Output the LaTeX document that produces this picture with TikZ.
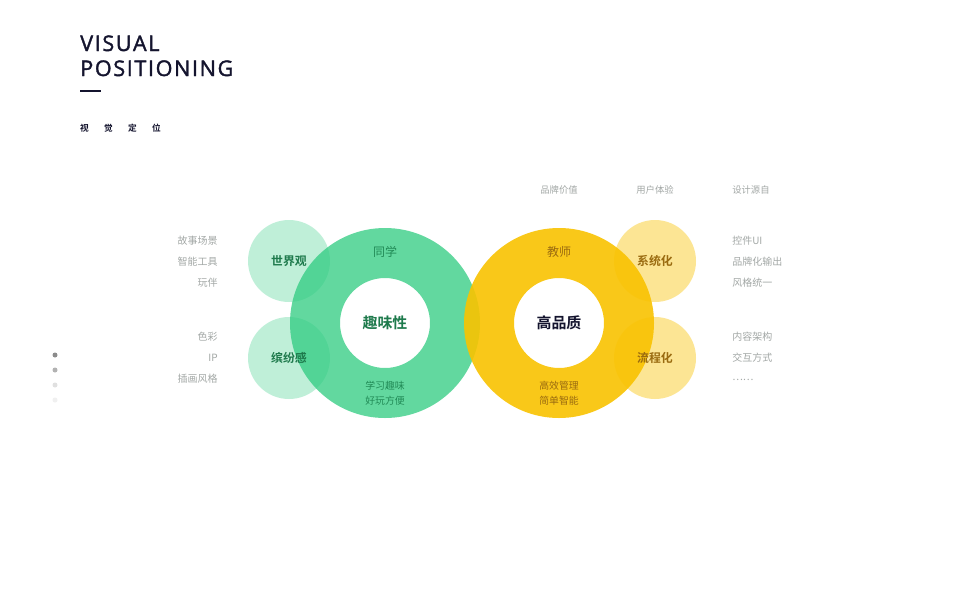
\documentclass[tikz,border=0pt]{standalone}
\usepackage{fontspec}
\setmainfont{Noto Sans CJK SC}
\newfontfamily\titlefont[LetterSpace=7.5,FakeBold=1.6]{Open Sans}
\newfontfamily\cjk{Noto Sans CJK SC}
\newfontfamily\cjkb{Noto Sans CJK SC Bold}
\definecolor{gbase}{HTML}{2ECC80}
\definecolor{ybase}{HTML}{F9C300}
\definecolor{gtext}{HTML}{1E7A4C}
\definecolor{ytext}{HTML}{9A6B10}
\definecolor{navy}{HTML}{14142E}
\definecolor{lbl}{HTML}{A3A8A6}
\tikzset{
  lab/.style={font=\cjk\fontsize{7.5pt}{9pt}\selectfont, text=lbl, inner sep=0pt},
  toplab/.style={font=\cjk\fontsize{7pt}{9pt}\selectfont, text=lbl, inner sep=0pt},
  gin/.style={font=\cjk\fontsize{7.4pt}{9pt}\selectfont, text=gtext!80!gbase, inner sep=0pt},
  yin/.style={font=\cjk\fontsize{7.4pt}{9pt}\selectfont, text=ytext, inner sep=0pt},
  gbig/.style={font=\cjk\fontsize{9pt}{10pt}\selectfont, text=gtext!80!gbase, inner sep=0pt},
  ybig/.style={font=\cjk\fontsize{9pt}{10pt}\selectfont, text=ytext, inner sep=0pt},
  gsmall/.style={font=\cjkb\fontsize{8.9pt}{11pt}\selectfont, text=gtext, inner sep=0pt},
  ysmall/.style={font=\cjkb\fontsize{8.9pt}{11pt}\selectfont, text=ytext, inner sep=0pt},
}
\begin{document}
\begin{tikzpicture}[x=0.75pt,y=-0.75pt]
\useasboundingbox[fill=white] (0,0) rectangle (960,600);
% title
\node[anchor=base west, inner sep=0pt, font=\titlefont\fontsize{16.2pt}{18pt}\selectfont, text=navy] (t1) at (80,51) {VISUAL};
\node[anchor=base west, inner sep=0pt, font=\titlefont\fontsize{16.2pt}{18pt}\selectfont, text=navy] (t2) at (80,76) {POSITIONING};
\fill[navy] (80,90) rectangle (101,92);
\foreach \c [count=\i] in {视,觉,定,位}{
  \node[inner sep=0pt, font=\cjkb\fontsize{6.5pt}{8pt}\selectfont, text=navy] (s\i) at ({84.5+24*(\i-1)},128) {\c};
}
% dots
\fill[black!45] (55,355) circle (2.5);
\fill[black!30] (55,370) circle (2.5);
\fill[black!12] (55,385) circle (2.5);
\fill[black!6] (55,400) circle (2.5);
% small green circles
\fill[gbase, opacity=0.3] (289,261) circle (41);
\fill[gbase, opacity=0.3] (289,358) circle (41);
% green ring
\fill[gbase, opacity=0.75, even odd rule] (385,323) circle (95) (385,323) circle (45);
% yellow ring
\fill[ybase, opacity=0.9, even odd rule] (559,323) circle (95) (559,323) circle (45);
% small yellow circles
\fill[ybase, opacity=0.42] (655,261) circle (41);
\fill[ybase, opacity=0.42] (655,358) circle (41);
% centre texts
\node[inner sep=0pt, font=\cjkb\fontsize{11.2pt}{13pt}\selectfont, text=gtext] (g) at (385,323) {趣味性};
\node[inner sep=0pt, font=\cjkb\fontsize{11.2pt}{13pt}\selectfont, text=navy] (y) at (559,323) {高品质};
\node[gbig] (g1) at (385,252) {同学};
\node[gin] (g2) at (385,386) {学习趣味};
\node[gin] (g3) at (385,401) {好玩方便};
\node[ybig] (y1) at (559,252) {教师};
\node[yin] (y2) at (559,386) {高效管理};
\node[yin] (y3) at (559,401) {简单智能};
\node[gsmall] (a1) at (289,261) {世界观};
\node[gsmall] (a2) at (289,358) {缤纷感};
\node[ysmall] (b1) at (655,261) {系统化};
\node[ysmall] (b2) at (655,358) {流程化};
% left labels
\node[lab, anchor=east] (l1) at (218,241) {故事场景};
\node[lab, anchor=east] (l2) at (218,262) {智能工具};
\node[lab, anchor=east] (l3) at (218,283) {玩伴};
\node[lab, anchor=east] (l4) at (218,337) {色彩};
\node[lab, anchor=east] (l5) at (218,358) {IP};
\node[lab, anchor=east] (l6) at (218,379) {插画风格};
% right labels
\node[lab, anchor=west] (r1) at (732,241) {控件UI};
\node[lab, anchor=west] (r2) at (732,262) {品牌化输出};
\node[lab, anchor=west] (r3) at (732,283) {风格统一};
\node[lab, anchor=west] (r4) at (732,337) {内容架构};
\node[lab, anchor=west] (r5) at (732,358) {交互方式};
\node[lab, anchor=west] (r6) at (732,380) {……};
% top labels
\node[toplab] (p1) at (559,190) {品牌价值};
\node[toplab] (p2) at (655,190) {用户体验};
\node[toplab, anchor=west] (p3) at (732,190) {设计源自};
\end{tikzpicture}
\end{document}
